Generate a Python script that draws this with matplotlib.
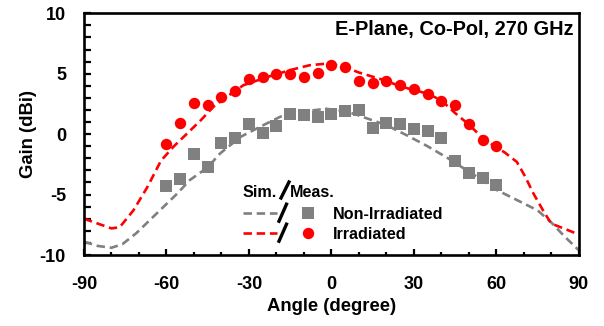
import matplotlib
matplotlib.use("Agg")
import matplotlib.pyplot as plt
from matplotlib.ticker import MultipleLocator

plt.rcParams['font.family'] = ['Liberation Sans', 'DejaVu Sans']
plt.rcParams['font.weight'] = 'bold'

# ---- data ----
meas_angles = [-60, -55, -50, -45, -40, -35, -30, -25, -20, -15, -10, -5, 0,
               5, 10, 15, 20, 25, 30, 35, 40, 45, 50, 55, 60]
irr_meas = [-0.8, 0.9, 2.55, 2.4, 3.05, 3.55, 4.6, 4.7, 4.95, 5.0, 4.7, 5.05, 5.7,
            5.55, 4.4, 4.25, 4.4, 4.05, 3.7, 3.35, 2.75, 2.4, 0.8, -0.5, -0.95]
non_meas = [-4.25, -3.7, -1.65, -2.7, -0.75, -0.3, 0.85, 0.1, 0.65, 1.7, 1.55, 1.4, 1.65,
            1.9, 2.0, 0.55, 0.95, 0.85, 0.45, 0.3, -0.3, -2.2, -3.2, -3.65, -4.2]

irr_sim_angles = [-90, -85, -80, -77, -72, -67, -62, -57.5, -52.5, -47.5, -43, -38, -32,
                  -23, -15, -8, -1, 5, 10, 18, 26, 35, 40, 45, 50, 55, 60, 63,
                  67.5, 70.5, 73.5, 77, 80, 84.5, 90]
irr_sim = [-7.0, -7.4, -7.8, -7.7, -6.3, -4.4, -2.2, -1.05, 0.05, 1.15, 2.25, 3.1, 4.05,
           4.75, 5.3, 5.7, 5.85, 5.55, 5.1, 4.55, 3.9, 3.35, 2.8, 1.75, 0.8, -0.3, -1.1, -1.5,
           -2.3, -3.5, -4.9, -6.3, -7.4, -7.8, -8.3]

non_sim_angles = [-90, -85, -80, -76, -71, -66, -61, -56, -51.5, -45, -40.5, -33, -26,
                  -18.5, -11, -2, 5, 10, 13, 20, 27.5, 35, 42.5, 50, 55, 60, 67.5, 75,
                  80, 85, 90]
non_sim = [-8.9, -9.25, -9.4, -9.1, -8.2, -7.1, -6.0, -4.9, -3.8, -2.75, -1.6, -0.22, 0.6,
           1.45, 1.85, 2.1, 1.9, 1.55, 1.3, 0.75, -0.1, -1.0, -2.0, -3.1, -3.8, -4.6, -5.45, -6.3,
           -7.3, -8.5, -9.6]

x_ticks = [-90, -60, -30, 0, 30, 60, 90]
y_ticks = [-10, -5, 0, 5, 10]

GRAY = '#808080'
RED = '#FF0000'

fig = plt.figure(figsize=(6.04, 3.26), dpi=100)
ax = fig.add_axes([84/604, 1-255/326, (578.7-84)/604, (255-13.3)/326])

dash = (0, (3.2, 1.8))
ax.plot(non_sim_angles, non_sim, color=GRAY, lw=1.9, linestyle=dash, zorder=2, clip_on=False)
ax.plot(irr_sim_angles, irr_sim, color=RED, lw=1.9, linestyle=dash, zorder=2, clip_on=False)
ax.plot(meas_angles, non_meas, 's', color=GRAY, markersize=8.4, markeredgewidth=0, zorder=3)
ax.plot(meas_angles, irr_meas, 'o', color=RED, markersize=8.2, markeredgewidth=0, zorder=3)

ax.set_xlim(-90, 90)
ax.set_ylim(-10, 10)
ax.set_xticks(x_ticks)
ax.set_yticks(y_ticks)
ax.xaxis.set_minor_locator(MultipleLocator(10))
ax.yaxis.set_minor_locator(MultipleLocator(1))
ax.set_xticklabels([str(t) for t in x_ticks])
ax.set_yticklabels([str(t) for t in y_ticks])
ax.tick_params(axis='x', which='major', direction='in', length=4, width=1.6, pad=15, labelsize=13)
ax.tick_params(axis='x', which='minor', direction='in', length=2.5, width=1.6)
ax.tick_params(axis='y', which='major', direction='in', length=5, width=1.6, pad=13, labelsize=13)
ax.tick_params(axis='y', which='minor', direction='in', length=5, width=1.6)
for s in ax.spines.values():
    s.set_linewidth(1.9)

ax.set_xlabel('Angle (degree)', fontsize=13.3, fontweight='bold', labelpad=4)
ax.set_ylabel('Gain (dBi)', fontsize=13.3, fontweight='bold', labelpad=2)

ax.text(1 - 4.7/494.7, (255-35)/241.7, 'E-Plane, Co-Pol, 270 GHz', transform=ax.transAxes,
        ha='right', va='baseline', fontsize=14.4, fontweight='bold')

# ---- custom legend ----
W, H = 494.7, 241.7
def fx(px):
    return (px - 84) / W
def fy(py):
    return (255 - py) / H
T = ax.transAxes
lfs = 11.6
ax.text(fx(243), fy(197), 'Sim.', transform=T, ha='left', va='baseline', fontsize=lfs, fontweight='bold')
ax.text(fx(290), fy(197), 'Meas.', transform=T, ha='left', va='baseline', fontsize=lfs, fontweight='bold')
ax.plot([fx(281), fx(289)], [fy(198), fy(182)], color='black', lw=2.4, transform=T, clip_on=False)

rows = [(212.7, GRAY, 's', 8.4, 'Non-Irradiated'), (232.7, RED, 'o', 8.2, 'Irradiated')]
for yy, col, mk, ms, lab in rows:
    ax.plot([fx(243), fx(277)], [fy(yy), fy(yy)], color=col, lw=1.9, linestyle=dash,
            transform=T, clip_on=False)
    ax.plot([fx(279), fx(286.5)], [fy(yy + 8.5), fy(yy - 8.5)], color='black', lw=2.4,
            transform=T, clip_on=False)
    ax.plot([fx(307.5)], [fy(yy)], mk, color=col, markersize=ms, markeredgewidth=0,
            transform=T, clip_on=False)
    ax.text(fx(333), fy(yy), lab, transform=T, ha='left', va='center_baseline',
            fontsize=lfs, fontweight='bold')

fig.savefig('out.png', dpi=100)
